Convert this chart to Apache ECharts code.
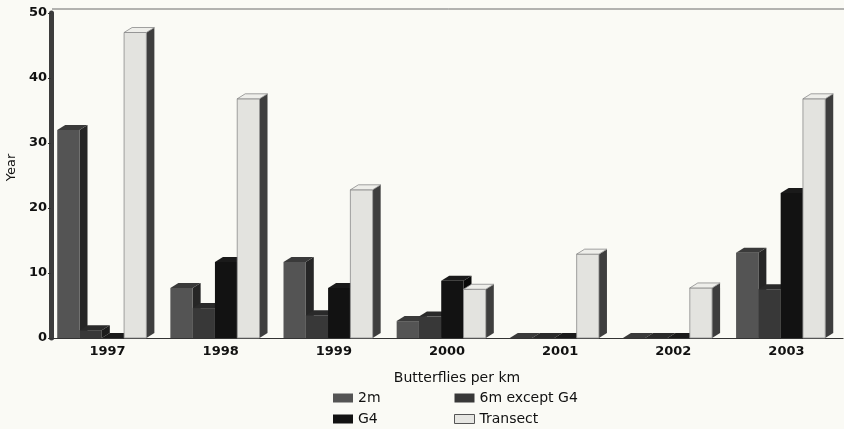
<!DOCTYPE html>
<html>
<head>
<meta charset="utf-8">
<script src="https://cdn.jsdelivr.net/npm/echarts@6/dist/echarts.min.js"></script>
<style>
  html, body { margin: 0; padding: 0; background: #fafaf5; }
  #chart { width: 844px; height: 429px; }
</style>
</head>
<body>
<div id="chart"></div>
<script>
// Butterflies per km by year, four survey types
const categories = ['1997', '1998', '1999', '2000', '2001', '2002', '2003'];
const seriesNames = ['2m', '6m except G4', 'G4', 'Transect'];
const values2m = [32, 7.7, 11.7, 2.6, 0, 0, 13.1];
const values6m = [1.2, 4.6, 3.5, 3.3, 0, 0, 7.5];
const valuesG4 = [0, 11.7, 7.7, 8.8, 0, 0, 22.3];
const valuesTransect = [47, 36.8, 22.8, 7.5, 12.9, 7.7, 36.8];
const yTicks = [0, 10, 20, 30, 40, 50];

// face shading for each series: front, top, side
const shades = [
  { front: '#545454', top: '#3a3a3a', side: '#262626' },
  { front: '#383838', top: '#2a2a2a', side: '#1c1c1c' },
  { front: '#121212', top: '#1a1a1a', side: '#080808' },
  { front: '#e3e3df', top: '#eeeeea', side: '#3e3e3e' }
];

const FONT = 'DejaVu Sans';
const DEPTH_X = 8, DEPTH_Y = 5;

function barRenderer(idx) {
  const c = shades[idx];
  return function (params, api) {
    const cat = api.value(0);
    const v = api.value(1);
    const base = api.coord([cat, 0]);
    const top = api.coord([cat, v]);
    const band = api.size([1, 0])[0];
    const bw = band * 0.197;
    const x0 = base[0] - band / 2 + band * 0.055 + idx * bw;
    const x1 = x0 + bw;
    const yb = base[1], yt = top[1];
    const edge = idx === 3 ? '#8a8a8a' : null;
    const children = [
      {
        type: 'polygon',
        shape: { points: [[x1, yt], [x1 + DEPTH_X, yt - DEPTH_Y], [x1 + DEPTH_X, yb - DEPTH_Y], [x1, yb]] },
        style: { fill: c.side }
      },
      {
        type: 'rect',
        shape: { x: x0, y: yt, width: bw, height: Math.max(0, yb - yt) },
        style: { fill: c.front, stroke: edge, lineWidth: edge ? 0.8 : 0 }
      },
      {
        type: 'polygon',
        shape: { points: [[x0, yt], [x0 + DEPTH_X, yt - DEPTH_Y], [x1 + DEPTH_X, yt - DEPTH_Y], [x1, yt]] },
        style: { fill: c.top, stroke: edge, lineWidth: edge ? 0.8 : 0 }
      }
    ];
    return { type: 'group', children: children };
  };
}

// back wall top edge, drawn at the 50 level pushed back by the bar depth
function frameRenderer(params, api) {
  const p = api.coord([0, yTicks[yTicks.length - 1]]);
  const band = api.size([1, 0])[0];
  const xl = p[0] - band / 2 + 1;
  const xr = params.coordSys.x + params.coordSys.width + 10;
  const y = p[1] - DEPTH_Y + 1;
  return {
    type: 'line',
    shape: { x1: xl, y1: y, x2: xr, y2: y },
    style: { stroke: '#6a6a6a', lineWidth: 1 }
  };
}

const allValues = [values2m, values6m, valuesG4, valuesTransect];

const series = allValues.map(function (vals, i) {
  return {
    name: seriesNames[i],
    type: 'custom',
    renderItem: barRenderer(i),
    encode: { x: 0, y: 1 },
    itemStyle: { color: i === 3 ? '#e6e6e2' : shades[i].front },
    data: vals.map(function (v, k) { return [k, v]; }),
    silent: true,
    z: 2
  };
});
series.push({
  name: 'frame',
  type: 'custom',
  renderItem: frameRenderer,
  encode: { x: 0, y: 1 },
  data: [[0, 50]],
  silent: true,
  z: 1
});

const legendBase = {
  orient: 'vertical',
  top: 386,
  bottom: null,
  height: 42,
  padding: 5,
  icon: 'rect',
  itemWidth: 20,
  itemHeight: 9,
  itemGap: 7,
  selectedMode: false,
  textStyle: { fontFamily: FONT, fontSize: 14, color: '#111' }
};

const chart = echarts.init(document.getElementById('chart'), null, { renderer: 'canvas' });
chart.setOption({
  backgroundColor: '#fafaf5',
  animation: false,
  grid: { left: 51, right: 1, top: 13, bottom: 91, containLabel: false, outerBoundsMode: 'none' },
  legend: [
    Object.assign({}, legendBase, { left: 328, data: [seriesNames[0], seriesNames[2]] }),
    Object.assign({}, legendBase, {
      left: 449,
      data: [seriesNames[1], { name: seriesNames[3], itemStyle: { borderColor: '#555', borderWidth: 1 } }]
    })
  ],
  xAxis: {
    type: 'category',
    data: categories,
    boundaryGap: true,
    name: 'Butterflies per km',
    nameLocation: 'middle',
    nameGap: 33,
    nameTextStyle: { fontFamily: FONT, fontSize: 14, color: '#111', padding: [0, 0, 0, 20] },
    axisLine: { lineStyle: { color: '#333', width: 1.2 } },
    axisTick: { show: false },
    axisLabel: { fontFamily: FONT, fontSize: 13, fontWeight: 'bold', color: '#111', margin: 7 },
    splitLine: { show: false }
  },
  yAxis: {
    type: 'value',
    min: yTicks[0],
    max: yTicks[yTicks.length - 1],
    interval: 10,
    name: 'Year',
    nameLocation: 'middle',
    nameRotate: 90,
    nameGap: 32,
    nameTextStyle: { fontFamily: FONT, fontSize: 13, color: '#111', padding: [0, 0, 0, 16] },
    axisLine: { show: true, lineStyle: { color: '#3c3c3c', width: 5 } },
    axisTick: { show: true, length: 3, lineStyle: { color: '#333' } },
    axisLabel: { fontFamily: FONT, fontSize: 13, fontWeight: 'bold', color: '#111', margin: 4 },
    splitLine: { show: false }
  },
  series: series
});
</script>
</body>
</html>
